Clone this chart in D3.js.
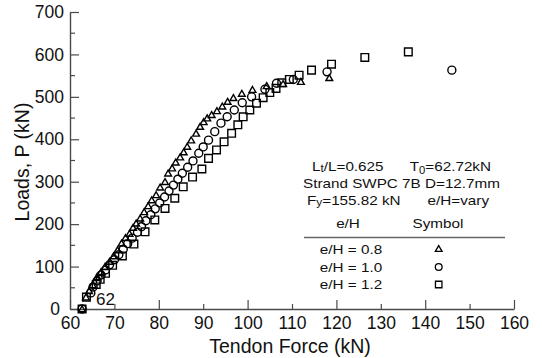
<!DOCTYPE html>
<html>
<head>
<meta charset="utf-8">
<script src="https://cdn.jsdelivr.net/npm/d3@7"></script>
<style>
  html, body { margin: 0; padding: 0; background: #fff; }
  svg { display: block; font-family: "Liberation Sans", Arial, sans-serif; }
</style>
</head>
<body>
<svg id="chart" width="542" height="358"></svg>
<script>
// Tendon force (kN) and applied load (kN) for each eccentricity ratio
const tri_F = [62.72, 63.6, 64.3, 65.1, 66.1, 67.0, 67.9, 68.9, 69.8, 70.7, 71.6, 72.5, 73.4, 74.2, 74.9, 75.8, 76.7, 77.6, 78.4, 79.4, 80.3, 81.4, 82.1, 83.0, 83.8, 84.8, 85.6, 86.4, 87.3, 88.4, 89.3, 90.1, 90.9, 91.9, 93.1, 94.3, 95.5, 96.8, 98.7, 101.1, 104.3, 108.0, 112.0, 118.4];
const tri_P = [0, 28, 43, 57, 76, 88, 100, 112, 125, 139, 155, 168, 178, 192, 202, 214, 229, 243, 257, 269, 287, 300, 320, 332, 346, 358, 370, 383, 398, 414, 430, 441, 450, 458, 467, 478, 489, 498, 508, 517, 526, 531, 536, 545];

const cir_F = [62.72, 64.7, 65.2, 66.1, 67.0, 68.0, 68.9, 70.0, 71.0, 72.0, 73.0, 74.0, 75.2, 76.1, 77.1, 78.2, 79.2, 80.2, 81.3, 82.3, 83.3, 84.3, 85.3, 86.5, 87.7, 89.0, 90.0, 91.2, 92.6, 94.0, 95.4, 97.0, 98.8, 100.9, 103.9, 106.5, 110.3, 117.9, 146.0];
const cir_P = [0, 38, 52, 66, 80, 92, 104, 116, 128, 141, 154, 167, 181, 194, 208, 222, 236, 250, 264, 278, 292, 306, 320, 334, 349, 367, 382, 398, 418, 438, 453, 469, 486, 500, 518, 532, 541, 559, 563];

const sq_F = [62.72, 63.7, 65.9, 66.8, 68.0, 69.6, 71.8, 74.4, 76.9, 79.1, 81.4, 83.6, 85.5, 87.6, 89.7, 91.2, 93.0, 94.7, 96.4, 97.8, 99.0, 100.5, 102.0, 103.5, 105.0, 106.4, 107.7, 109.4, 111.6, 114.4, 118.9, 126.4, 136.2];
const sq_P = [0, 28, 58, 70, 84, 103, 125, 153, 182, 210, 237, 261, 288, 311, 330, 355, 375, 394, 414, 434, 453, 469, 485, 498, 510, 520, 533, 541, 551, 563, 577, 593, 606];

const xTicks = [60, 70, 80, 90, 100, 110, 120, 130, 140, 150, 160];
const yTicks = [0, 100, 200, 300, 400, 500, 600, 700];
const legendLabels = ["e/H = 0.8", "e/H = 1.0", "e/H = 1.2"];

const svg = d3.select("#chart");
const x = d3.scaleLinear().domain([60, 160]).range([70, 514]);
const y = d3.scaleLinear().domain([0, 700]).range([309, 12]);

const axisColor = "#4a4a4a";
const textColor = "#111";

// x axis: labels every 10, long ticks every 20, short ticks between
const gx = svg.append("g").attr("transform", `translate(0,${y(0)})`)
  .call(d3.axisBottom(x).tickValues(xTicks).tickSizeInner(-5).tickSizeOuter(0).tickPadding(8)
    .tickFormat(d3.format("d")));
gx.selectAll("line").filter(d => (d - 60) % 20 === 0).attr("y2", -9);
gx.select(".domain").attr("stroke", axisColor).attr("stroke-width", 1.4);
gx.selectAll("line").attr("stroke", axisColor).attr("stroke-width", 1.2);
gx.selectAll("text").attr("font-size", 17.5).attr("fill", textColor).attr("font-family", null);

// y axis: labels every 100, long ticks at 100s, short ticks at 50s
const gy = svg.append("g").attr("transform", `translate(${x(60)},0)`)
  .call(d3.axisLeft(y).tickValues(yTicks).tickSizeInner(-9).tickSizeOuter(0).tickPadding(6)
    .tickFormat(d3.format("d")));
gy.select(".domain").attr("stroke", axisColor).attr("stroke-width", 1.4);
gy.selectAll("line").attr("stroke", axisColor).attr("stroke-width", 1.2);
gy.selectAll("text").attr("font-size", 17.5).attr("fill", textColor).attr("font-family", null);
// keep the corner "0" clear of the "60" below it
gy.selectAll("text").filter(d => d === 0).attr("x", -10);
gy.selectAll(".minor").data(d3.range(50, 700, 100)).enter().append("line")
  .attr("x1", 0).attr("x2", 5).attr("y1", d => y(d)).attr("y2", d => y(d))
  .attr("stroke", axisColor).attr("stroke-width", 1.2);

// axis titles
svg.append("text").attr("x", 290).attr("y", 353).attr("text-anchor", "middle")
  .attr("font-size", 19.5).attr("fill", textColor).text("Tendon Force (kN)");
svg.append("text").attr("transform", "translate(29,162) rotate(-90)").attr("text-anchor", "middle")
  .attr("font-size", 19.5).attr("fill", textColor).text("Loads, P (kN)");

// marker shapes
const symTri = d3.symbol().type(d3.symbolTriangle).size(20);
const symCir = d3.symbol().type(d3.symbolCircle).size(50);
const symSq = d3.symbol().type(d3.symbolSquare).size(58);

function drawSeries(F, P, sym, dy) {
  svg.append("g").selectAll("path").data(F.map((f, i) => [f, P[i]])).enter().append("path")
    .attr("d", sym)
    .attr("transform", d => `translate(${x(d[0])},${y(d[1]) + dy})`)
    .attr("fill", "none").attr("stroke", "#000").attr("stroke-width", 1.4);
}
drawSeries(sq_F, sq_P, symSq, 0);
drawSeries(cir_F, cir_P, symCir, 0);
drawSeries(tri_F, tri_P, symTri, 0.8);

// initial tendon force label
svg.append("text").attr("x", 96).attr("y", 305).attr("font-size", 17).attr("fill", textColor).text("62");

// specimen notes: slightly widened lettering
const sx = 1.13;
const note = svg.append("g").attr("font-size", 13.5).attr("fill", textColor);
function noteText(x0, y0, anchor) {
  return note.append("text").attr("x", 0).attr("y", 0).attr("text-anchor", anchor || "start")
    .attr("transform", `translate(${x0},${y0}) scale(${sx},1)`);
}
const l1 = noteText(312, 171);
l1.append("tspan").text("L");
l1.append("tspan").attr("font-size", 10.5).attr("dy", 1).text("t");
l1.append("tspan").attr("dy", -1).text("/L=0.625");
const l1b = noteText(491, 171, "end");
l1b.append("tspan").text("T");
l1b.append("tspan").attr("font-size", 10).attr("dy", 3).text("0");
l1b.append("tspan").attr("dy", -3).text("=62.72kN");
noteText(303, 188).text("Strand SWPC 7B D=12.7mm");
const l3 = noteText(307, 204.5);
l3.append("tspan").text("F");
l3.append("tspan").attr("font-size", 10.5).attr("dy", 1).text("y");
l3.append("tspan").attr("dy", -1).text("=155.82 kN");
noteText(489, 204.5, "end").text("e/H=vary");

// legend table
noteText(348, 228, "middle").text("e/H");
noteText(438, 228, "middle").text("Symbol");
svg.append("line").attr("x1", 304).attr("x2", 505).attr("y1", 237.5).attr("y2", 237.5)
  .attr("stroke", "#666").attr("stroke-width", 1.6);
const legSyms = [d3.symbol().type(d3.symbolTriangle).size(20), d3.symbol().type(d3.symbolCircle).size(36), d3.symbol().type(d3.symbolSquare).size(42)];
legendLabels.forEach((lab, i) => {
  const yy = 254 + i * 17.5;
  noteText(351, yy, "middle").text(lab);
  svg.append("path").attr("d", legSyms[i]()).attr("transform", `translate(438.7,${yy - 4.5})`)
    .attr("fill", "none").attr("stroke", "#000").attr("stroke-width", 1.3);
});
</script>
</body>
</html>
